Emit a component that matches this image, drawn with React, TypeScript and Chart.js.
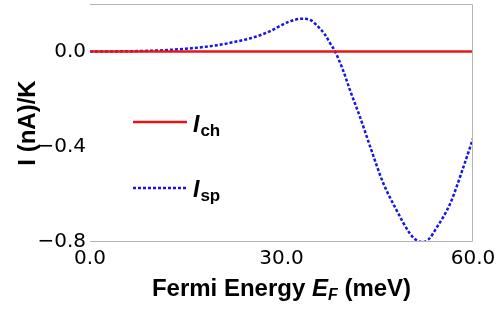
import React, { useEffect, useRef } from "react";
import { Chart, registerables } from "chart.js";

Chart.register(...registerables);

const energies = [0, 5, 10, 15, 20, 22.5, 25, 28, 31, 33.2, 34.7, 35.5, 36.8, 37.6, 38.4, 39.6, 40.7, 42.3, 43.9, 45.9, 48, 50, 51, 52, 53, 54.3, 56.4, 58.5, 60];
const ispValues = [0, 0.001, 0.004, 0.012, 0.027, 0.04, 0.055, 0.083, 0.124, 0.138, 0.13, 0.111, 0.072, 0.036, 0, -0.075, -0.16, -0.275, -0.4, -0.55, -0.665, -0.76, -0.79, -0.8, -0.79, -0.74, -0.64, -0.485, -0.365];
const ichEnergies = [0, 60];
const ichValues = [0, 0];
const xTicks = [0, 30, 60];
const yTicks = [-0.8, -0.4, 0];

const RED = "rgb(232,20,20)";
const BLUE = "rgb(20,20,235)";

const fmt = (v: number) => (v < 0 ? "\u2212" : "") + Math.abs(v).toFixed(1);

const decorPlugin = {
  id: "decor",
  afterDraw(chart: any) {
    const { ctx, chartArea } = chart;
    const { left, right, top, bottom } = chartArea;
    ctx.save();
    ctx.strokeStyle = "#b4b4b4";
    ctx.lineWidth = 1;
    ctx.beginPath();
    ctx.moveTo(left, top + 0.5);
    ctx.lineTo(right - 0.5, top + 0.5);
    ctx.lineTo(right - 0.5, bottom - 0.5);
    ctx.lineTo(left, bottom - 0.5);
    ctx.stroke();

    const lx0 = 133, lx1 = 187;
    ctx.lineWidth = 2.5;
    ctx.strokeStyle = RED;
    ctx.setLineDash([]);
    ctx.beginPath();
    ctx.moveTo(lx0, 122);
    ctx.lineTo(lx1, 122);
    ctx.stroke();
    ctx.strokeStyle = BLUE;
    ctx.setLineDash([3, 2]);
    ctx.beginPath();
    ctx.moveTo(lx0, 188);
    ctx.lineTo(lx1, 188);
    ctx.stroke();
    ctx.setLineDash([]);

    ctx.fillStyle = "#000";
    ctx.textBaseline = "alphabetic";
    ctx.textAlign = "left";
    const drawSub = (main: string, sub: string, x: number, y: number) => {
      ctx.font = "italic bold 23px 'Liberation Sans', Arial, sans-serif";
      ctx.fillText(main, x, y);
      const w = ctx.measureText(main).width;
      ctx.font = "bold 17px 'Liberation Sans', Arial, sans-serif";
      ctx.fillText(sub, x + w + 1, y + 4);
    };
    drawSub("I", "ch", 193, 132);
    drawSub("I", "sp", 193, 197);

    const parts = [
      { t: "Fermi Energy ", f: "bold 24px 'Liberation Sans', Arial, sans-serif", dy: 0 },
      { t: "E", f: "italic bold 24px 'Liberation Sans', Arial, sans-serif", dy: 0 },
      { t: "F", f: "italic bold 16px 'Liberation Sans', Arial, sans-serif", dy: 4 },
      { t: " (meV)", f: "bold 24px 'Liberation Sans', Arial, sans-serif", dy: 0 },
    ];
    let total = 0;
    const widths = parts.map((p) => {
      ctx.font = p.f;
      const w = ctx.measureText(p.t).width;
      total += w;
      return w;
    });
    let x = (left + right) / 2 - total / 2;
    const by = 296;
    parts.forEach((p, i) => {
      ctx.font = p.f;
      ctx.fillText(p.t, x, by + p.dy);
      x += widths[i];
    });

    ctx.translate(28, (top + bottom) / 2);
    ctx.rotate(-Math.PI / 2);
    ctx.textAlign = "center";
    ctx.textBaseline = "middle";
    ctx.font = "bold 24px 'Liberation Sans', Arial, sans-serif";
    ctx.fillText("I (nA)/K", 0, 0);
    ctx.restore();
  },
};

export default function App() {
  const ref = useRef<HTMLCanvasElement | null>(null);
  useEffect(() => {
    if (!ref.current) return;
    const chart = new Chart(ref.current, {
      type: "line",
      data: {
        datasets: [
          {
            label: "Ich",
            data: ichEnergies.map((e, i) => ({ x: e, y: ichValues[i] })),
            borderColor: RED,
            borderWidth: 2.5,
            pointRadius: 0,
            fill: false,
          },
          {
            label: "Isp",
            data: energies.map((e, i) => ({ x: e, y: ispValues[i] })),
            borderColor: BLUE,
            borderWidth: 2.5,
            borderDash: [3, 2],
            pointRadius: 0,
            fill: false,
            cubicInterpolationMode: "monotone",
          },
        ],
      },
      options: {
        animation: false,
        responsive: true,
        maintainAspectRatio: false,
        layout: { padding: { top: 4, right: 25, left: 0, bottom: 0 } },
        plugins: { legend: { display: false }, tooltip: { enabled: false } },
        scales: {
          x: {
            type: "linear",
            min: 0,
            max: 60,
            afterBuildTicks: (s: any) => {
              s.ticks = xTicks.map((v) => ({ value: v }));
            },
            afterFit: (s: any) => {
              s.height = 70;
              s.paddingLeft = 0;
              s.paddingRight = 0;
            },
            grid: { display: false, drawTicks: false },
            border: { display: false },
            ticks: {
              color: "#000",
              padding: 5,
              maxRotation: 0,
              font: { family: "'DejaVu Sans'", size: 20 },
              callback: (v: any) => Number(v).toFixed(1),
            },
          },
          y: {
            type: "linear",
            min: -0.8,
            max: 0.2,
            afterBuildTicks: (s: any) => {
              s.ticks = yTicks.map((v) => ({ value: v }));
            },
            afterFit: (s: any) => {
              s.width = 90;
              s.paddingTop = 0;
              s.paddingBottom = 0;
            },
            grid: { display: false, drawTicks: false },
            border: { display: false },
            ticks: {
              color: "#000",
              padding: 4,
              font: { family: "'DejaVu Sans'", size: 20 },
              callback: (v: any) => fmt(Number(v)),
            },
          },
        },
      },
      plugins: [decorPlugin],
    } as any);
    return () => chart.destroy();
  }, []);
  return (
    <div style={{ position: "fixed", left: 0, top: 0, width: 498, height: 312, background: "#fff" }}>
      <canvas ref={ref} />
    </div>
  );
}
